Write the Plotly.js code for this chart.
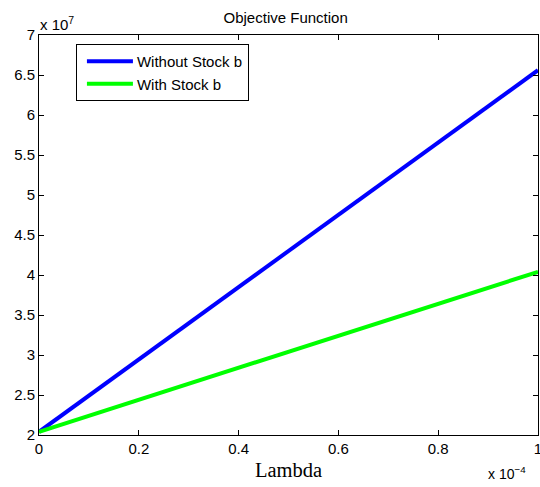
<!DOCTYPE html>
<html>
<head>
<meta charset="utf-8">
<script src="https://cdn.plot.ly/plotly-3.0.1.min.js"></script>
<style>html,body{margin:0;padding:0;background:#fff;}#chart{width:540px;height:487px;}</style>
</head>
<body>
<div id="chart"></div>
<script>
var lambda = [0, 0.0001];
var withoutStock = [20400000, 65600000];
var withStock = [20400000, 40400000];
var xTickVals = [0, 0.00002, 0.00004, 0.00006, 0.00008, 0.0001];
var xTickText = ['0', '0.2', '0.4', '0.6', '0.8', '1'];
var yTickVals = [20000000, 25000000, 30000000, 35000000, 40000000, 45000000, 50000000, 55000000, 60000000, 65000000, 70000000];
var yTickText = ['2', '2.5', '3', '3.5', '4', '4.5', '5', '5.5', '6', '6.5', '7'];

var traces = [
  {x: lambda, y: withoutStock, mode: 'lines', name: 'Without Stock b', line: {color: '#0000ff', width: 4}},
  {x: lambda, y: withStock, mode: 'lines', name: 'With Stock b', line: {color: '#00ff00', width: 4}}
];
var layout = {
  width: 540, height: 487,
  margin: {l: 39, r: 2, t: 35, b: 52},
  paper_bgcolor: '#fff', plot_bgcolor: '#fff',
  font: {family: 'Liberation Sans, Arial, sans-serif', size: 15, color: '#000'},
  title: {text: 'Objective Function', x: 0.529, xanchor: 'center', y: 0.963, yanchor: 'middle', font: {size: 15, color: '#000'}},
  showlegend: true,
  legend: {x: 0.074, y: 0.9775, xanchor: 'left', yanchor: 'top', bordercolor: '#000', borderwidth: 1, bgcolor: '#fff', font: {size: 15}, tracegroupgap: 0, itemwidth: 50},
  xaxis: {range: [0, 0.0001], tickvals: xTickVals, ticktext: xTickText, ticks: 'inside', ticklen: 5, tickcolor: '#000', showline: true, linecolor: '#000', linewidth: 1, mirror: 'allticks', showgrid: false, zeroline: false, ticklabeloverflow: 'allow',
    title: {text: 'Lambda', font: {family: 'Liberation Serif, Times New Roman, serif', size: 20.5}, standoff: 6}},
  yaxis: {range: [20000000, 70000000], tickvals: yTickVals, ticktext: yTickText, ticks: 'inside', ticklen: 5, tickcolor: '#000', showline: true, linecolor: '#000', linewidth: 1, mirror: 'allticks', showgrid: false, zeroline: false, ticklabeloverflow: 'allow'},
  annotations: [
    {text: 'x 10<sup>7</sup>', xref: 'paper', yref: 'paper', x: -0.002, y: 1.0, xanchor: 'left', yanchor: 'bottom', showarrow: false, font: {size: 15}},
    {text: 'x 10<sup>\u22124</sup>', xref: 'paper', yref: 'paper', x: 0.98, y: -0.068, xanchor: 'right', yanchor: 'top', showarrow: false, font: {size: 14}}
  ]
};
Plotly.newPlot('chart', traces, layout, {displayModeBar: false, staticPlot: true}).then(function () {
  document.querySelectorAll('#chart .legendlines path').forEach(function (p) {
    p.setAttribute('d', 'M10,0h46');
  });
});
</script>
</body>
</html>
